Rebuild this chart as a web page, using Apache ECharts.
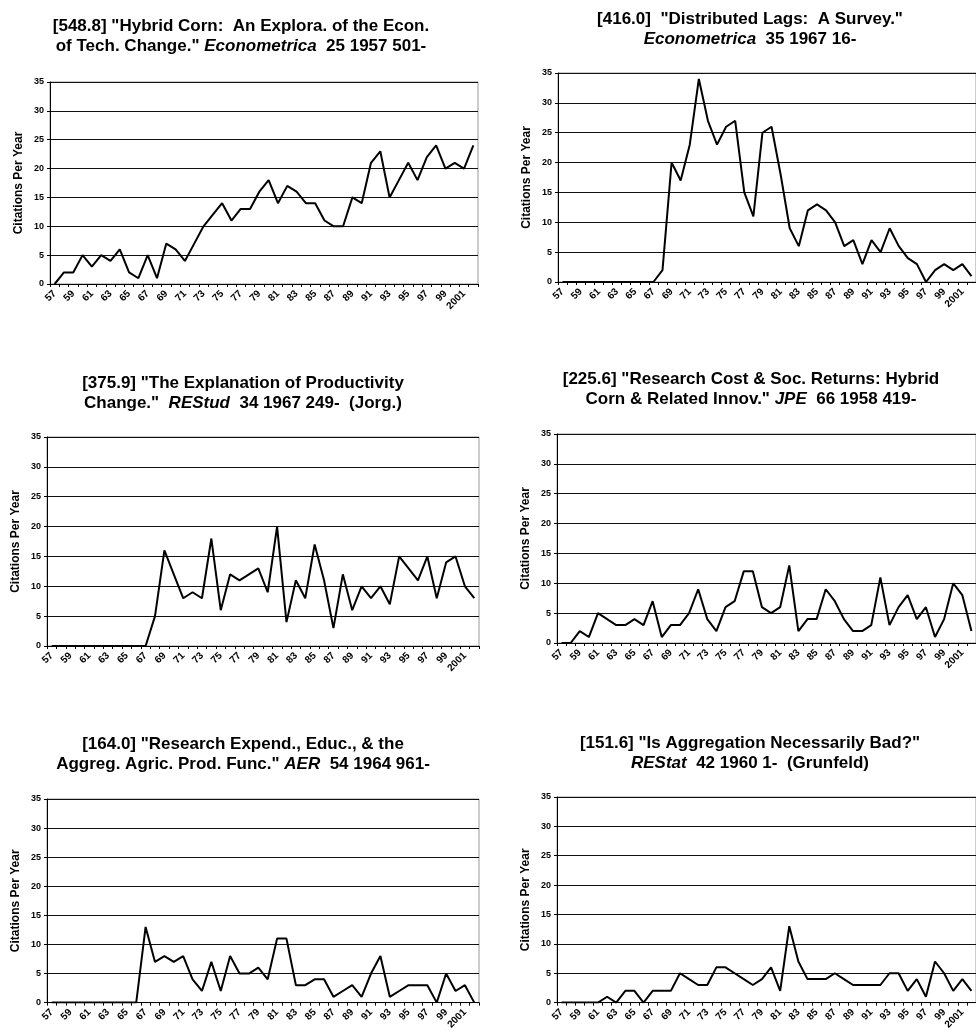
<!DOCTYPE html>
<html>
<head>
<meta charset="utf-8">
<script src="https://cdn.jsdelivr.net/npm/echarts@6/dist/echarts.min.js"></script>
<style>
html,body{margin:0;padding:0;background:#fff;}
#c{width:976px;height:1032px;}
</style>
</head>
<body>
<div id="c"></div>
<script>
// Category (year) tick labels, 1957–2002
const years = ['57','58','59','60','61','62','63','64','65','66',
  '67','68','69','70','71','72','73','74','75','76',
  '77','78','79','80','81','82','83','84','85','86',
  '87','88','89','90','91','92','93','94','95','96',
  '97','98','99','2000','2001','2002'];

// Citations per year for each article
const hybridCorn = [0,2,2,5,3,5,4,6,2,1, 5,1,7,6,4,7,10,12,14,11,
  13,13,16,18,14,17,16,14,14,11, 10,10,15,14,21,23,15,18,21,18,
  22,24,20,21,20,24];
const distributedLags = [0,0,0,0,0,0,0,0,0,0, 0,2,20,17,23,34,27,23,26,27,
  15,11,25,26,18,9,6,12,13,12, 10,6,7,3,7,5,9,6,4,3,
  0,2,3,2,3,1];
const productivityChange = [0,0,0,0,0,0,0,0,0,0, 0,5,16,12,8,9,8,18,6,12,
  11,12,13,9,20,4,11,8,17,11, 3,12,6,10,8,10,7,15,13,11,
  15,8,14,15,10,8];
const researchCost = [0,0,2,1,5,4,3,3,4,3, 7,1,3,3,5,9,4,2,6,7,
  12,12,6,5,6,13,2,4,4,9, 7,4,2,2,3,11,3,6,8,4,
  6,1,4,10,8,2];
const researchExpend = [0,0,0,0,0,0,0,0,0,0, 13,7,8,7,8,4,2,7,2,8,
  5,5,6,4,11,11,3,3,4,4, 1,2,3,1,5,8,1,2,3,3,
  3,0,5,2,3,0];
const aggregation = [0,0,0,0,0,1,0,2,2,0, 2,2,2,5,4,3,3,6,6,5,
  4,3,4,6,2,13,7,4,4,4, 5,4,3,3,3,3,5,5,2,4,
  1,7,5,2,4,2];

const titles = [
  '[548.8] "Hybrid Corn:  An Explora. of the Econ.\nof Tech. Change." {i|Econometrica}  25 1957 501-',
  '[416.0]  "Distributed Lags:  A Survey."\n{i|Econometrica}  35 1967 16-',
  '[375.9] "The Explanation of Productivity\nChange."  {i|REStud}  34 1967 249-  (Jorg.)',
  '[225.6] "Research Cost & Soc. Returns: Hybrid\nCorn & Related Innov." {i|JPE}  66 1958 419-',
  '[164.0] "Research Expend., Educ., & the\nAggreg. Agric. Prod. Func." {i|AER}  54 1964 961-',
  '[151.6] "Is Aggregation Necessarily Bad?"\n{i|REStat}  42 1960 1-  (Grunfeld)'
];
const seriesData = [hybridCorn, distributedLags, productivityChange, researchCost, researchExpend, aggregation];
const yAxisName = 'Citations Per Year';

// layout
const grids = [
  {left:50, top:82, width:428, height:202},
  {left:558, top:73, width:425, height:209},
  {left:47, top:437, width:432, height:209},
  {left:557, top:434, width:425, height:209},
  {left:47, top:799, width:432, height:209},
  {left:557, top:797, width:425, height:209}
];
const titlePos = [[236,11],[745,4],[238,368],[746,364],[238,729],[745,728]];

const FONT = '"Liberation Sans", Arial, sans-serif';

const option = {
  backgroundColor:'#fff',
  animation:false,
  title: titles.map((t,i)=>({
    text:t, left:titlePos[i][0], top:titlePos[i][1], textAlign:'center',
    textStyle:{fontFamily:FONT, fontSize:17, fontWeight:'bold', color:'#000', lineHeight:20,
      rich:{i:{fontFamily:FONT, fontSize:17, fontWeight:'bold', fontStyle:'italic', color:'#000', lineHeight:20}}}
  })),
  grid: grids.map(g=>Object.assign({show:true, borderColor:'#999', borderWidth:1, backgroundColor:'#fff'}, g)),
  xAxis: grids.map((g,i)=>({
    type:'category', gridIndex:i, data:years, boundaryGap:true,
    axisLine:{lineStyle:{color:'#000', width:1}},
    axisTick:{show:true, interval:0, length:3, lineStyle:{color:'#000'}},
    axisLabel:{interval:1, rotate:45, fontSize:10, fontWeight:'bold', fontFamily:FONT, color:'#000', margin:8},
    splitLine:{show:false}
  })),
  yAxis: grids.map((g,i)=>({
    type:'value', gridIndex:i, min:0, max:35, interval:5,
    name:yAxisName, nameLocation:'middle', nameGap:25,
    nameTextStyle:{fontFamily:FONT, fontSize:12, fontWeight:'bold', color:'#000'},
    axisLine:{show:true, lineStyle:{color:'#000', width:1}},
    axisTick:{show:true, length:3, lineStyle:{color:'#000'}},
    axisLabel:{fontSize:9, fontWeight:'bold', fontFamily:FONT, color:'#000', margin:6},
    splitLine:{show:true, lineStyle:{color:'#111', width:1}}
  })),
  series: seriesData.map((d,i)=>({
    type:'line', xAxisIndex:i, yAxisIndex:i, data:d,
    symbol:'none', lineStyle:{color:'#000', width:2}, itemStyle:{color:'#000'}
  }))
};
const chart = echarts.init(document.getElementById('c'), null, {renderer:'canvas'});
chart.setOption(option);
</script>
</body>
</html>
